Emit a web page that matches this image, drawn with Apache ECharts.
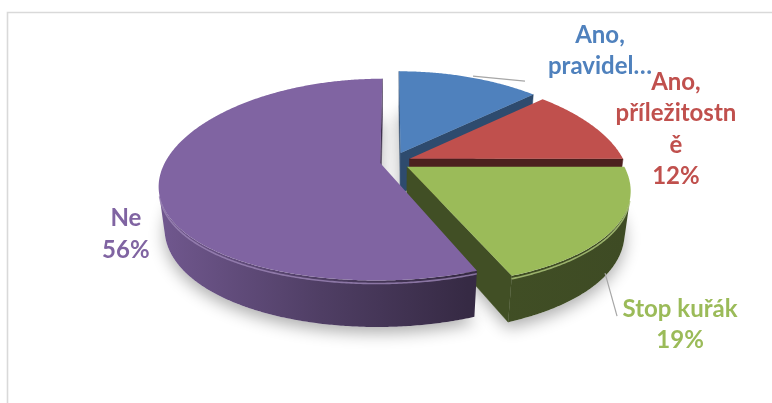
<!DOCTYPE html>
<html>
<head>
<meta charset="utf-8">
<script src="https://cdn.jsdelivr.net/npm/echarts@6/dist/echarts.min.js"></script>
<style>
  html, body { margin: 0; padding: 0; background: #ffffff; }
  #chart { width: 772px; height: 403px; }
</style>
</head>
<body>
<div id="chart"></div>
<script>
// Kouření – podíl odpovědí
const categories = ['Ano, pravidelně', 'Ano, příležitostně', 'Stop kuřák', 'Ne'];
const values = [13, 12, 19, 56];
// label text per slice, {p} is replaced by the share in percent
const labelLines = [
  ['Ano,', 'pravidel…'],
  ['Ano,', 'příležitostn', 'ě', '{p}'],
  ['Stop kuřák', '{p}'],
  ['Ne', '{p}']
];
const colors = ['#4F81BD', '#C0504D', '#9BBB59', '#8064A2'];

// 3D pie view: radius/height in px at pivot depth, tilt in degrees,
// separate horizontal / vertical perspective distances
const view = { cx: 392, cy: 162, radius: 215, height: 47, tilt: 27.06, distX: 870, distY: 1167 };
// how far each slice is pulled out of the centre
const explode = [22, 19, 18, 12];
// darkening factor of the cut faces of each slice
const faceShade = [0.58, 0.40, 0.42, 0.50];
// label offsets from the rim point at the middle of each slice
const labelLayout = [
  { dx: 131, dy: -58, leader: [[4, -1], [56, 4]] },
  { dx: 84, dy: -59 },
  { dx: 65.5, dy: 65, leader: [[-9.5, 45], [2.5, 88]] },
  { dx: -33, dy: 21 }
];

const total = values.reduce((a, b) => a + b, 0);
const starts = [];
values.reduce((acc, v, i) => { starts[i] = acc; return acc + v; }, 0);

const RAD = Math.PI / 180;
const st = Math.sin(view.tilt * RAD), ct = Math.cos(view.tilt * RAD);
const camX = 0, camZ = -view.distX * ct;

function depthOf(x, y, z) { return z * ct - y * st; }
function proj(x, y, z) {
  const d = depthOf(x, y, z);
  return [
    view.cx + x * view.distX / (view.distX + d),
    view.cy - (y * ct + z * st) * view.distY / (view.distY + d)
  ];
}
function shade(hex, f) {
  const n = parseInt(hex.slice(1), 16);
  const ch = [(n >> 16) & 255, (n >> 8) & 255, n & 255].map(v => {
    const o = f <= 1 ? v * f : v + (255 - v) * (f - 1);
    return Math.max(0, Math.min(255, Math.round(o)));
  });
  return 'rgb(' + ch.join(',') + ')';
}
function wallFill(hex) {
  return {
    type: 'linear', global: true,
    x: view.cx - view.radius - 20, y: 0, x2: view.cx + view.radius + 20, y2: 0,
    colorStops: [
      { offset: 0, color: shade(hex, 0.88) },
      { offset: 0.35, color: shade(hex, 0.62) },
      { offset: 0.66, color: shade(hex, 0.42) },
      { offset: 1, color: shade(hex, 0.40) }
    ]
  };
}

function renderSlice(params, api) {
  const i = params.dataIndex;
  const v = api.value(0);
  const a0 = starts[i] / total * 360;
  const a1 = a0 + v / total * 360;
  const mid = (a0 + a1) / 2 * RAD;
  const ax = explode[i] * Math.sin(mid), az = explode[i] * Math.cos(mid);
  const R = view.radius, H = view.height;
  const rim = (p, y) => [ax + R * Math.sin(p * RAD), y, az + R * Math.cos(p * RAD)];

  const n = Math.max(2, Math.ceil((a1 - a0) / 0.5));
  const angles = [];
  for (let k = 0; k <= n; k++) angles.push(a0 + (a1 - a0) * k / n);

  const top = [proj(ax, 0, az)].concat(angles.map(p => proj(...rim(p, 0))));
  const bottom = [proj(ax, -H, az)].concat(angles.map(p => proj(...rim(p, -H))));
  const children = [];

  // soft drop shadow under the slice
  children.push({
    type: 'polygon', z2: 1, shape: { points: bottom },
    style: { fill: '#ffffff', shadowBlur: 16, shadowColor: 'rgba(0,0,0,0.32)', shadowOffsetY: 6 }
  });

  // outer wall, only where it faces the camera
  const visible = p => {
    const q = rim(p, 0);
    return Math.sin(p * RAD) * (camX - q[0]) + Math.cos(p * RAD) * (camZ - q[2]) > 0;
  };
  const runs = [];
  let run = [];
  angles.forEach(p => {
    if (visible(p)) run.push(p);
    else { if (run.length > 1) runs.push(run); run = []; }
  });
  if (run.length > 1) runs.push(run);
  runs.forEach(r => {
    const pts = r.map(p => proj(...rim(p, 0)))
      .concat(r.slice().reverse().map(p => proj(...rim(p, -H))));
    let d = 0;
    r.forEach(p => { d += depthOf(...rim(p, -H / 2)); });
    d /= r.length;
    children.push({
      type: 'polygon', z2: 50 - d / 10, shape: { points: pts },
      style: { fill: wallFill(colors[i]) }
    });
    // light catching the rounded top edge
    children.push({
      type: 'polyline', z2: 99, shape: { points: r.map(p => proj(...rim(p, -3))) },
      style: { stroke: shade(colors[i], 1.22), lineWidth: 1.6, opacity: 0.8, fill: null }
    });
  });

  // cut faces along the slice radii
  [[a0, -1], [a1, 1]].forEach(([p, s]) => {
    const nx = s * Math.cos(p * RAD), nz = -s * Math.sin(p * RAD);
    if (nx * (camX - ax) + nz * (camZ - az) <= 0) return;
    const q0 = rim(p, 0), q1 = rim(p, -H);
    const pts = [proj(ax, 0, az), proj(...q0), proj(...q1), proj(ax, -H, az)];
    const d = depthOf((ax + q0[0]) / 2, -H / 2, (az + q0[2]) / 2);
    children.push({
      type: 'polygon', z2: 50 - d / 10, shape: { points: pts },
      style: { fill: shade(colors[i], faceShade[i]), stroke: shade(colors[i], faceShade[i]), lineWidth: 0.5 }
    });
  });

  // top face
  children.push({
    type: 'polygon', z2: 100, shape: { points: top },
    style: { fill: colors[i] }
  });

  // data label
  const anchor = proj(...rim((a0 + a1) / 2, 0));
  const L = labelLayout[i];
  const pct = Math.round(v / total * 100) + '%';
  children.push({
    type: 'text', z2: 150,
    style: {
      x: anchor[0] + L.dx, y: anchor[1] + L.dy,
      text: labelLines[i].map(s => s.replace('{p}', pct)).join('\n'),
      fill: colors[i], font: 'bold 24px Lato',
      align: 'center', verticalAlign: 'top', lineHeight: 31.5
    }
  });
  if (L.leader) {
    children.push({
      type: 'polyline', z2: 150,
      shape: { points: L.leader.map(o => [anchor[0] + o[0], anchor[1] + o[1]]) },
      style: { stroke: '#A6A6A6', lineWidth: 1.2, fill: null }
    });
  }
  return { type: 'group', children: children };
}

const chart = echarts.init(document.getElementById('chart'), null, { renderer: 'canvas' });
chart.setOption({
  backgroundColor: '#ffffff',
  animation: false,
  graphic: [{
    type: 'rect', z: 0,
    shape: { x: 7.5, y: 12.5, width: 820, height: 440 },
    style: { fill: 'none', stroke: '#D9D9D9', lineWidth: 1.6 }
  }],
  series: [{
    type: 'custom',
    coordinateSystem: 'none',
    renderItem: renderSlice,
    data: values.map((v, i) => ({ name: categories[i], value: v }))
  }]
});
</script>
</body>
</html>
